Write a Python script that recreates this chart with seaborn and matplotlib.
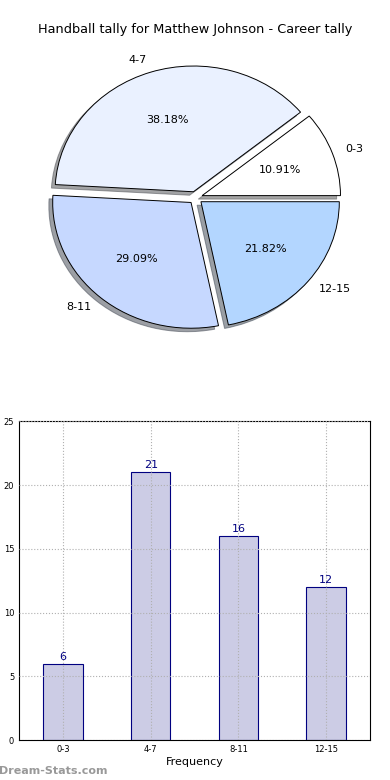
import matplotlib
matplotlib.use("Agg")
import matplotlib.pyplot as plt
import pandas as pd
import seaborn as sns

bins = ["0-3", "4-7", "8-11", "12-15"]
counts = [6, 21, 16, 12]
pie_colors = ["#FFFFFF", "#EAF1FF", "#C6D8FF", "#B3D6FF"]
title = "Handball tally for Matthew Johnson - Career tally"

sns.set_style("white")
plt.rcParams["font.family"] = ["DejaVu Sans"]
plt.rcParams["text.color"] = "black"
plt.rcParams["axes.labelcolor"] = "black"
plt.rcParams["xtick.color"] = "black"
plt.rcParams["ytick.color"] = "black"

fig = plt.figure(figsize=(3.9, 7.8), dpi=100)

# pie on top
ax_pie = fig.add_axes([0.058, 0.545, 0.887, 0.403])
wedges, texts, autotexts = ax_pie.pie(
    counts, labels=bins, colors=pie_colors, explode=[0.05] * len(counts),
    autopct="%.2f%%", shadow=True, startangle=0,
    wedgeprops={"edgecolor": "black", "linewidth": 0.7},
    textprops={"fontsize": 8, "color": "black"},
)
ax_pie.set_aspect("auto")
ax_pie.set_xlim(-1.25, 1.25)
ax_pie.set_ylim(-1.25, 1.25)
fig.text(0.5, 0.962, title, ha="center", va="center", fontsize=9.3)

# bar chart below
df = pd.DataFrame({"bin": bins, "count": counts})
ax = fig.add_axes([0.049, 0.051, 0.9, 0.409])
sns.barplot(data=df, x="bin", y="count", color="#CCCCE5", edgecolor="#000080",
            linewidth=0.8, width=0.45, saturation=1, ax=ax)
for i, v in enumerate(counts):
    ax.text(i, v + 0.15, str(v), ha="center", va="bottom", color="#000080", fontsize=8)
ax.set_xlim(-0.5, 3.5)
ax.set_ylim(0, 25)
ax.set_yticks([0, 5, 10, 15, 20, 25])
ax.grid(True, linestyle=":", color="#B0B0B0", linewidth=0.8)
ax.set_axisbelow(False)
for p in ax.patches:
    p.set_zorder(1)
ax.tick_params(labelsize=6, direction="in", length=3)
ax.set_xlabel("Frequency", fontsize=8, labelpad=2)
ax.set_ylabel("Number of Matches", fontsize=7, labelpad=6)
for s in ax.spines.values():
    s.set_color("black")
    s.set_linewidth(0.8)

fig.text(-0.003, 0.012, "Dream-Stats.com", color="#999999", fontsize=8,
         fontweight="bold", ha="left", va="center")

fig.savefig("out.png", dpi=100)
